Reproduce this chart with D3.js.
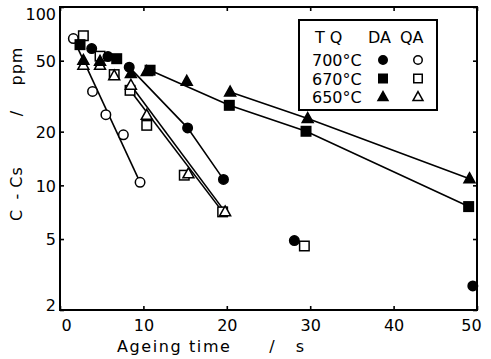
<!DOCTYPE html>
<html>
<head>
<meta charset="utf-8">
<script src="https://cdn.jsdelivr.net/npm/d3@7"></script>
<style>
html,body{margin:0;padding:0;background:#fff;}
svg{display:block;}
text{font-family:"DejaVu Sans",sans-serif;fill:#000;}
</style>
</head>
<body>
<svg id="chart" width="491" height="359"></svg>
<script>
// ---- data (time in s, C - Cs in ppm) ----
const xTicks = [0, 10, 20, 30, 40, 50];
const yTicks = [2, 5, 10, 20, 50, 100];

// DA = direct ageing (filled), QA = quench-ageing (open)
const da700 = [[3.8, 58.5], [5.75, 52.7], [8.3, 46], [15.3, 21], [19.6, 10.8], [28.1, 4.9], [49.5, 2.73]];
const da670 = [[2.4, 61.5], [6.8, 51.3], [10.8, 44.2], [20.3, 28.1], [29.5, 20.1], [49, 7.6]];
const da650 = [[2.8, 50.2], [4.8, 49.6], [8.5, 42.3], [10.4, 43.5], [15.2, 38.3], [20.4, 33.4], [29.7, 23.7], [49.1, 10.9]];
const qa700 = [[1.6, 66.5], [3.9, 33.6], [5.5, 24.9], [7.6, 19.2], [9.6, 10.4]];
const qa670 = [[2.8, 69], [4.8, 53], [6.5, 41.8], [8.4, 34.1], [10.4, 21.7], [14.9, 11.4], [19.5, 7.1], [29.3, 4.57]];
const qa650 = [[2.8, 47.1], [4.8, 47.1], [6.5, 41.1], [8.5, 36.4], [10.4, 24.7], [15.4, 11.6], [19.8, 7.1]];

// which points each drawn line runs through (index ranges, inclusive);
// straight = fitted line drawn from the first to the last of those points
const series = [
  {name: "700°C", kind: "DA", shape: "circle",   data: da700, line: [2, 4], straight: false},
  {name: "670°C", kind: "DA", shape: "square",   data: da670, line: [2, 5], straight: false},
  {name: "650°C", kind: "DA", shape: "triangle", data: da650, line: [5, 7], straight: false},
  {name: "700°C", kind: "QA", shape: "circle",   data: qa700, line: [0, 4], straight: true},
  {name: "670°C", kind: "QA", shape: "square",   data: qa670, line: [3, 6], straight: true},
  {name: "650°C", kind: "QA", shape: "triangle", data: qa650, line: [3, 6], straight: true}
];
const legendRows = ["700°C", "670°C", "650°C"];

// ---- layout ----
const L = 60, R = 477, T = 7, B = 310;
const svg = d3.select("#chart");
const x = d3.scaleLinear().domain([0, 50]).range([L, R]);
const y = d3.scaleLog().domain([2, 100]).range([B, T]);

// axes (inward ticks on all four sides)
const fmt = d => String(d);
const gx = svg.append("g").attr("transform", `translate(0,${B})`)
  .call(d3.axisBottom(x).tickValues(xTicks).tickSize(-4).tickPadding(10).tickFormat(fmt));
gx.selectAll("text").attr("dx", d => d === 0 ? 6 : d === 50 ? -6 : 0);
const gy = svg.append("g").attr("transform", `translate(${L},0)`)
  .call(d3.axisLeft(y).tickValues(yTicks).tickSize(-4).tickPadding(4).tickFormat(fmt));
gy.selectAll("text").attr("dy", d => d === 100 ? "0.75em" : d === 2 ? "0em" : "0.36em");
svg.append("g").attr("transform", `translate(0,${T})`)
  .call(d3.axisTop(x).tickValues(xTicks).tickSize(-4).tickFormat(""));
svg.append("g").attr("transform", `translate(${R},0)`)
  .call(d3.axisRight(y).tickValues(yTicks).tickSize(-4).tickFormat(""));
svg.selectAll(".domain").remove();
svg.selectAll(".tick line").attr("stroke", "#000").attr("stroke-width", 1.6);
svg.selectAll(".tick text").attr("font-size", 16).attr("font-family", "DejaVu Sans").attr("fill", "#000");

svg.append("rect").attr("x", L).attr("y", T).attr("width", R - L).attr("height", B - T)
  .attr("fill", "none").attr("stroke", "#000").attr("stroke-width", 2);

// lines
const line = d3.line().x(d => x(d[0])).y(d => y(d[1]));
series.forEach(s => {
  const pts = s.data.slice(s.line[0], s.line[1] + 1);
  const used = s.straight ? [pts[0], pts[pts.length - 1]] : pts;
  svg.append("path")
    .attr("d", line(used))
    .attr("fill", "none").attr("stroke", "#000").attr("stroke-width", 1.6);
});

// markers
function marker(g, shape, filled, cx, cy, sz) {
  const fill = filled ? "#000" : "#fff";
  if (shape === "circle") {
    g.append("circle").attr("cx", cx).attr("cy", cy).attr("r", sz / 2)
      .attr("fill", fill).attr("stroke", "#000").attr("stroke-width", 1.5);
  } else if (shape === "square") {
    g.append("rect").attr("x", cx - sz / 2).attr("y", cy - sz / 2).attr("width", sz).attr("height", sz)
      .attr("fill", fill).attr("stroke", "#000").attr("stroke-width", 1.5);
  } else {
    const h = sz * 0.9;
    g.append("path")
      .attr("d", `M${cx},${cy - h * 0.6}L${cx + sz / 2},${cy + h * 0.4}L${cx - sz / 2},${cy + h * 0.4}Z`)
      .attr("fill", fill).attr("stroke", "#000").attr("stroke-width", 1.5);
  }
}
const mg = svg.append("g");
// open first, filled on top
[...series.filter(s => s.kind === "QA"), ...series.filter(s => s.kind === "DA")].forEach(s => {
  s.data.forEach(d => marker(mg, s.shape, s.kind === "DA", x(d[0]), y(d[1]), s.shape === "triangle" ? 11 : 9.5));
});

// axis titles
svg.append("text").attr("x", 117).attr("y", 352).attr("font-size", 16).attr("letter-spacing", 1.6).text("Ageing time");
svg.append("text").attr("x", 272).attr("y", 352).attr("font-size", 16).attr("text-anchor", "middle").text("/");
svg.append("text").attr("x", 300).attr("y", 352).attr("font-size", 16).attr("text-anchor", "middle").text("s");

const yl = svg.append("g").attr("transform", "translate(22,0) rotate(-90)");
[["C", 215], ["-", 196], ["Cs", 177], ["/", 113], ["ppm", 66]].forEach(([t, c]) => {
  yl.append("text").attr("x", -c).attr("y", 0).attr("font-size", 16).attr("text-anchor", "middle")
    .attr("letter-spacing", 1).text(t);
});

// legend
const lg = svg.append("g");
lg.append("rect").attr("x", 299).attr("y", 20).attr("width", 138).attr("height", 90)
  .attr("fill", "#fff").attr("stroke", "#000").attr("stroke-width", 2);
lg.append("text").attr("x", 315).attr("y", 43).attr("font-size", 16).attr("xml:space", "preserve").text("T Q");
lg.append("text").attr("x", 368).attr("y", 43).attr("font-size", 16).text("DA");
lg.append("text").attr("x", 400).attr("y", 43).attr("font-size", 16).text("QA");
legendRows.forEach((r, i) => {
  const cy = 60 + i * 18.5;
  lg.append("text").attr("x", 312).attr("y", cy + 6).attr("font-size", 16).text(r);
  const da = series.find(s => s.kind === "DA" && s.name === r);
  const qa = series.find(s => s.kind === "QA" && s.name === r);
  marker(lg, da.shape, true, 383, cy, da.shape === "triangle" ? 10 : 8.5);
  marker(lg, qa.shape, false, 418, cy, qa.shape === "triangle" ? 10 : 8.5);
});
</script>
</body>
</html>
